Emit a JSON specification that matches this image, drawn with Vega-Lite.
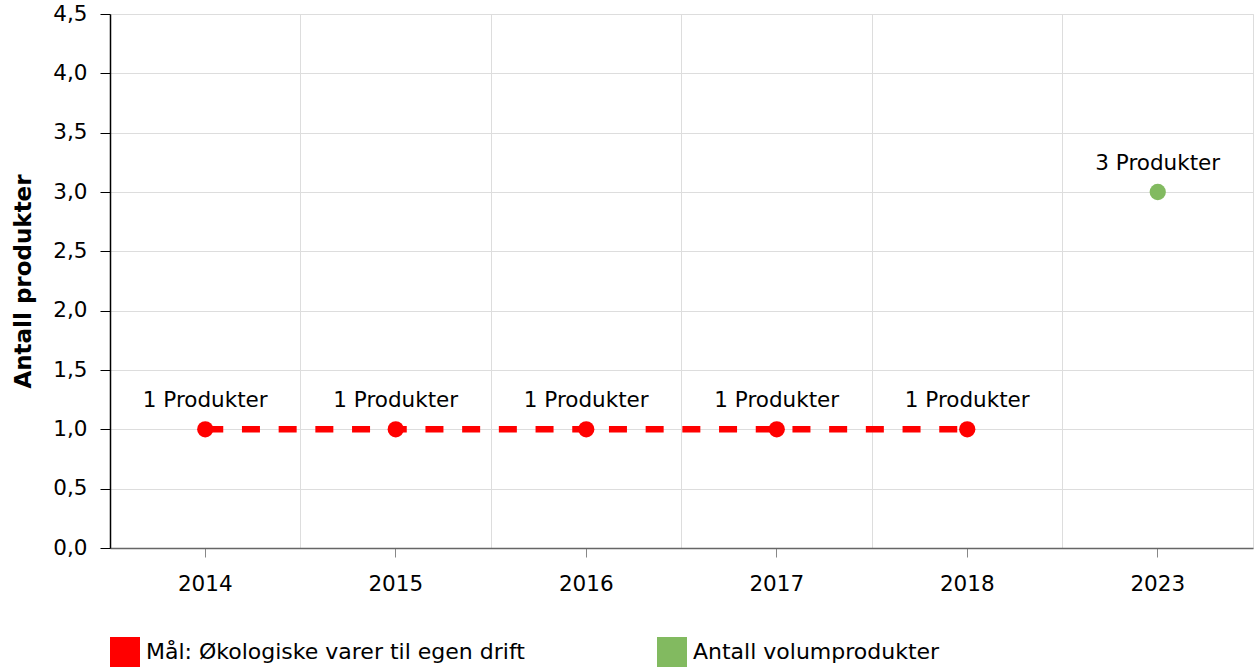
{
  "$schema": "https://vega.github.io/schema/vega-lite/v6.json",
  "autosize": {"type": "none"},
  "padding": {"left": 110, "top": 14, "right": 2, "bottom": 119},
  "width": 1143,
  "height": 534,
  "background": "white",
  "config": {
    "font": "DejaVu Sans",
    "view": {"stroke": "#dddddd"},
    "axis": {"labelFont": "DejaVu Sans", "labelFontSize": 21.5, "labelColor": "#000000", "gridColor": "#dddddd", "gridWidth": 1},
    "legend": {"labelFont": "DejaVu Sans", "labelFontSize": 22, "labelColor": "#000000"}
  },
  "data": {
    "values": [
      {"year": "2014", "series": "Mål: Økologiske varer til egen drift", "value": 1, "label": "1 Produkter"},
      {"year": "2015", "series": "Mål: Økologiske varer til egen drift", "value": 1, "label": "1 Produkter"},
      {"year": "2016", "series": "Mål: Økologiske varer til egen drift", "value": 1, "label": "1 Produkter"},
      {"year": "2017", "series": "Mål: Økologiske varer til egen drift", "value": 1, "label": "1 Produkter"},
      {"year": "2018", "series": "Mål: Økologiske varer til egen drift", "value": 1, "label": "1 Produkter"},
      {"year": "2023", "series": "Antall volumprodukter", "value": 3, "label": "3 Produkter"}
    ]
  },
  "resolve": {"scale": {"x": "shared", "y": "shared"}, "axis": {"x": "independent"}},
  "layer": [
    {
      "mark": {"type": "rule", "opacity": 0},
      "encoding": {
        "x": {"field": "year", "type": "ordinal", "scale": {"type": "band", "paddingInner": 0, "paddingOuter": 0},
          "axis": {"orient": "bottom", "bandPosition": 0, "grid": true, "labels": false, "ticks": false, "domain": false, "title": null}},
        "y": {"field": "value", "type": "quantitative"}
      }
    },
    {
      "transform": [{"filter": "datum.series === 'Mål: Økologiske varer til egen drift'"}],
      "mark": {"type": "line", "stroke": "#FF0000", "strokeWidth": 6.5, "strokeDash": [18, 18.7], "strokeCap": "butt"},
      "encoding": {
        "x": {"field": "year", "type": "ordinal", "axis": {"orient": "bottom", "bandPosition": 0.5, "grid": false, "labelAngle": 0, "labelPadding": 16, "tickSize": 9, "tickColor": "#888888", "domainColor": "#666666", "domainWidth": 1.5, "title": null}},
        "y": {"field": "value", "type": "quantitative", "scale": {"domain": [0, 4.5], "nice": false},
          "axis": {"values": [0, 0.5, 1, 1.5, 2, 2.5, 3, 3.5, 4, 4.5], "labelExpr": "replace(format(datum.value, '.1f'), '.', ',')", "grid": true, "tickSize": 10, "tickColor": "#000000", "domainColor": "#000000", "domainWidth": 1.5, "labelPadding": 13,
            "title": "Antall produkter", "titleFont": "DejaVu Sans", "titleFontSize": 23, "titleFontWeight": "bold", "titleColor": "#000000", "titlePadding": 17}}
      }
    },
    {
      "mark": {"type": "point", "filled": true, "opacity": 1, "size": 265},
      "encoding": {
        "x": {"field": "year", "type": "ordinal", "axis": null},
        "y": {"field": "value", "type": "quantitative"},
        "color": {"field": "series", "type": "nominal",
          "scale": {"domain": ["Mål: Økologiske varer til egen drift", "Antall volumprodukter"], "range": ["#FF0000", "#82BA60"]},
          "legend": {"orient": "none", "legendX": 0, "legendY": 623, "direction": "horizontal", "columns": 2, "title": null, "symbolType": "square", "symbolSize": 900, "symbolStrokeWidth": 0, "symbolOpacity": 1, "labelOffset": 6, "columnPadding": 132, "labelLimit": 600, "padding": 0}}
      }
    },
    {
      "mark": {"type": "text", "dy": -28, "fontSize": 21.5, "font": "DejaVu Sans", "color": "#000000"},
      "encoding": {
        "x": {"field": "year", "type": "ordinal", "axis": null},
        "y": {"field": "value", "type": "quantitative"},
        "text": {"field": "label"}
      }
    }
  ]
}
